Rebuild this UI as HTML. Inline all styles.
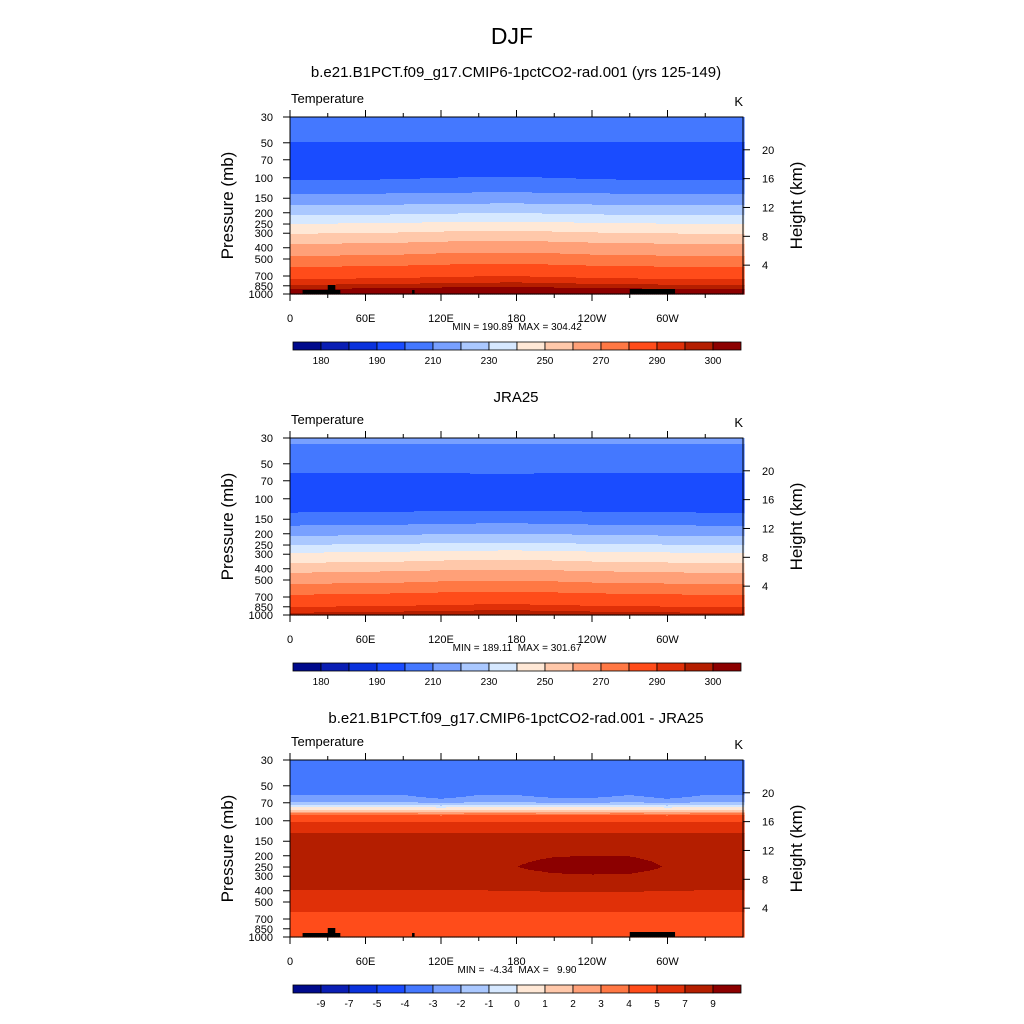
<!DOCTYPE html>
<html><head><meta charset="utf-8">
<style>
html,body{margin:0;padding:0;background:#fff;}
svg{display:block;font-family:"Liberation Sans",sans-serif;}
.pre{white-space:pre;}
</style></head>
<body>
<svg id="fig" width="1024" height="1024" viewBox="0 0 1024 1024" xmlns="http://www.w3.org/2000/svg">
<rect width="1024" height="1024" fill="#fff"/>
<text x="512" y="44" font-size="23" text-anchor="middle">DJF</text>
</svg>
<script>
// ---- data ----
const palette = ["#000a8c","#0a1eb4","#0a32dc","#1a4cff","#4478ff","#78a0ff","#aac8ff","#d6e8ff","#ffe8d6","#ffc8aa","#ffa078","#ff7844","#ff4c1a","#e03008","#b41e00","#8c0000"];
const levelsT = [180,185,190,200,210,220,230,240,250,260,270,280,290,295,300];
const levelsD = [-9,-7,-5,-4,-3,-2,-1,0,1,2,3,4,5,7,9];
const cbLabelsT = ["180","190","210","230","250","270","290","300"];
const cbLabelsD = ["-9","-7","-5","-4","-3","-2","-1","0","1","2","3","4","5","7","9"];
const pTicks = [30,50,70,100,150,200,250,300,400,500,700,850,1000];
const hTicks = [4,8,12,16,20];
const lonTicks = [0,60,120,180,240,300];
const lonTickLabels = ["0","60E","120E","180","120W","60W"];
const anomLons = [0,30,60,90,120,150,180,210,240,270,300,330,360];
// panel 1 profile
const P1 = [30,49,70,104,137,171,208,246,298,365,463,576,734,825,893,1000];
const T1 = [205,200,196,200,210,220,230,240,250,260,270,280,290,295,300,303];
const A1 = [-1,-0.5,0,0.5,1.5,2,2.2,1.5,0.5,0,-0.5,-1,-1];
// panel 2 profile
const P2 = [30,34,60,100,130,168,206,246,287,350,424,531,657,840,940,1000];
const T2 = [212,210,200,192,200,210,220,230,240,250,260,270,280,290,295,297];
const A2 = [-1,-0.5,0,0.5,1.5,2,2.2,1.5,0.5,0,-0.5,-1,-1];
const S2 = [0,0,0,0,0,-2.5,-2.5,0,0,0,0,0,0];
// panel 3 difference profile
const P3 = [30,60,69,73,76,80,84,89,102,127,250,396,614,800,1000];
const T3 = [-3.5,-3,-2,-1,0,1,2,4,5,7,8.3,7,5,4.6,4.5];
const A3 = [0,0,0,0,0,0,0.7,1.3,1.5,1.4,0.6,0,0];
const S3 = [0,0,0,0,-0.8,0,0,-0.6,-0.6,0,-0.8,0,0];

const NS="http://www.w3.org/2000/svg";
const svg=document.getElementById('fig');
function el(tag,attrs,parent){const e=document.createElementNS(NS,tag);for(const k in attrs)e.setAttribute(k,attrs[k]);(parent||svg).appendChild(e);return e;}
function interp(xs,ys,x){if(x<=xs[0])return ys[0];for(let i=1;i<xs.length;i++){if(x<=xs[i]){const t=(x-xs[i-1])/(xs[i]-xs[i-1]);return ys[i-1]+t*(ys[i]-ys[i-1]);}}return ys[ys.length-1];}
function interpLogP(ps,ts,p){return interp(ps.map(Math.log),ts,Math.log(p));}
function cls(v,levels){let c=0;while(c<levels.length&&v>=levels[c])c++;return c;}

const X0=290,W=453,H=177;
function xOf(lon){return X0+lon/360*W;}
function yOf(p,top){return top+Math.log(p/30)/Math.log(1000/30)*H;}
function pOf(y,top){return 30*Math.exp((y-top)/H*Math.log(1000/30));}

function panel(o){
  const top=o.top;
  const g=el('g',{});
  
  
  if(o.subtitle){const t=el('text',{x:516,y:top-o.subOff,'font-size':15,'text-anchor':'middle'},g);t.textContent=o.subtitle;}
  const tl=el('text',{x:291,y:top-14,'font-size':13},g);tl.textContent='Temperature';
  const ku=el('text',{x:743,y:top-11,'font-size':13,'text-anchor':'end'},g);ku.textContent='K';
  const field=el('g',{},g);
  
  
  const step=2;
  for(let x=X0;x<X0+W;x+=step){
    const lon=(x+step/2-X0)/W*360;
    const a=interp(anomLons,o.anom,lon), s=o.strat?interp(anomLons,o.strat,lon):0;
    let runStart=top,runC=-1;
    for(let y=top;y<=top+H;y++){
      let c=-1;
      if(y<top+H){
        const p=pOf(y+0.5,top);
        const wT=Math.exp(-Math.pow(Math.log(p/o.aC)/o.aW,2));
        const wS=Math.exp(-Math.pow(Math.log(p/o.sC)/o.sW,2));
        const v=interpLogP(o.P,o.T,p)+a*wT+s*wS;
        c=cls(v,o.levels);
      }
      if(c!==runC){
        if(runC>=0){const r=el('rect',{x:x,y:runStart,width:step+0.6,height:y-runStart+0.6,fill:palette[runC]},field);}
        runC=c;runStart=y;
      }
    }
  }
  if(o.topo){
    [[10,40,4],[30,36,9],[97,99,4],[270,306,5]].forEach(b=>{const r=el('rect',{x:xOf(b[0]),y:top+H-b[2],width:xOf(b[1])-xOf(b[0]),height:b[2],fill:'#000'},g);});
  }
  el('rect',{x:X0,y:top,width:W,height:H,fill:'none',stroke:'#000','stroke-width':1},g);
  for(let lon=0;lon<=330;lon+=30){
    const x=xOf(lon),len=lon%60===0?7:4;
    el('line',{x1:x,x2:x,y1:top+H,y2:top+H+len,stroke:'#000'},g);
    el('line',{x1:x,x2:x,y1:top,y2:top-len,stroke:'#000'},g);
  }
  lonTicks.forEach((lon,i)=>{const t=el('text',{x:xOf(lon),y:top+H+28,'font-size':11,'text-anchor':'middle'},g);t.textContent=lonTickLabels[i];});
  pTicks.forEach(p=>{const y=yOf(p,top);el('line',{x1:X0-7,x2:X0,y1:y,y2:y,stroke:'#000'},g);const t=el('text',{x:273,y:y+4,'font-size':11,'text-anchor':'end'},g);t.textContent=p;});
  hTicks.forEach(h=>{const p=1000*Math.exp(-h/7);const y=yOf(p,top);el('line',{x1:X0+W,x2:X0+W+7,y1:y,y2:y,stroke:'#000'},g);const t=el('text',{x:762,y:y+4,'font-size':11},g);t.textContent=h;});
  const yt=el('text',{x:0,y:0,'font-size':17,'text-anchor':'middle',transform:`translate(233,${top+H/2}) rotate(-90)`},g);yt.textContent='Pressure (mb)';
  const ht=el('text',{x:0,y:0,'font-size':17,'text-anchor':'middle',transform:`translate(802,${top+H/2}) rotate(-90)`},g);ht.textContent='Height (km)';
  const mm=el('text',{x:517,y:top+H+36,'font-size':10,'text-anchor':'middle','class':'pre'},g);mm.setAttribute('xml:space','preserve');mm.textContent=o.minmax;
  const cb=el('g',{},g);
  
  
  const cy=top+H+48,bw=28;
  palette.forEach((c,i)=>{el('rect',{x:293+i*bw,y:cy,width:bw,height:8,fill:c,stroke:'#000','stroke-width':0.8},cb);});
  o.cbLabels.forEach((lab,i)=>{const k=o.cbIdx[i];const t=el('text',{x:293+(k+1)*bw,y:cy+22,'font-size':10,'text-anchor':'middle'},cb);t.textContent=lab;});
}
const idxT=[0,2,4,6,8,10,12,14], idxD=[0,1,2,3,4,5,6,7,8,9,10,11,12,13,14];
panel({name:'panel-model',top:117,subOff:40,subtitle:'b.e21.B1PCT.f09_g17.CMIP6-1pctCO2-rad.001 (yrs 125-149)',P:P1,T:T1,anom:A1,aC:400,aW:1.2,strat:null,sC:100,sW:0.2,levels:levelsT,cbLabels:cbLabelsT,cbIdx:idxT,minmax:'MIN = 190.89  MAX = 304.42',topo:true});
panel({name:'panel-jra25',top:438,subOff:36,subtitle:'JRA25',P:P2,T:T2,anom:A2,aC:400,aW:1.2,strat:S2,sC:100,sW:0.12,levels:levelsT,cbLabels:cbLabelsT,cbIdx:idxT,minmax:'MIN = 189.11  MAX = 301.67',topo:false});
panel({name:'panel-difference',top:760,subOff:37,subtitle:'b.e21.B1PCT.f09_g17.CMIP6-1pctCO2-rad.001 - JRA25',P:P3,T:T3,anom:A3,aC:240,aW:0.35,strat:S3,sC:50,sW:0.4,levels:levelsD,cbLabels:cbLabelsD,cbIdx:idxD,minmax:'MIN =  -4.34  MAX =   9.90',topo:true});
</script>
</body></html>
